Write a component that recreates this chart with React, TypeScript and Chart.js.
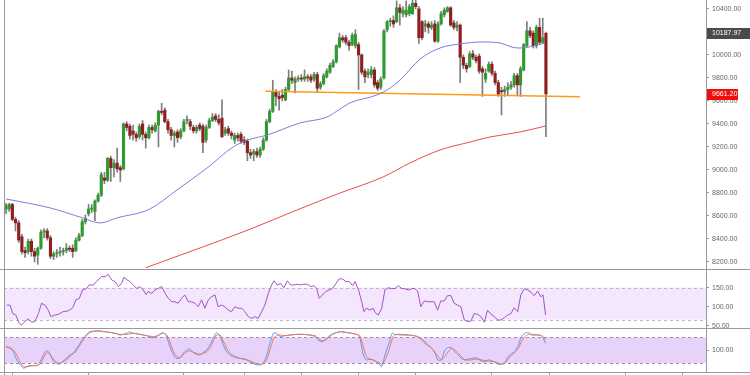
import React, { useEffect, useRef } from "react";
import { Chart, registerables } from "chart.js";

Chart.register(...registerables);

// ---- Candles (index 0..170) ----
const opens = [
  8660, 8660, 8700, 8570, 8540, 8420, 8300, 8290, 8380, 8290, 8260, 8320, 8460, 8470, 8410, 8250, 8270, 8280, 8290, 8300,
  8320, 8320, 8300, 8390, 8430, 8550, 8620, 8660, 8640, 8730, 8780, 8930, 8910, 9100, 9020, 9060, 9020, 9010, 9400, 9380,
  9340, 9310, 9290, 9400, 9310, 9280, 9370, 9340, 9390, 9510, 9520, 9420, 9350, 9300, 9330, 9290, 9340, 9430, 9420, 9370,
  9340, 9390, 9380, 9260, 9370, 9430, 9470, 9440, 9450, 9320, 9360, 9320, 9260, 9300, 9310, 9260, 9250, 9150, 9140, 9160,
  9130, 9180, 9260, 9420, 9510, 9680, 9640, 9650, 9610, 9700, 9800, 9760, 9790, 9800, 9790, 9810, 9810, 9790, 9830, 9720,
  9750, 9810, 9850, 9900, 9940, 10070, 10150, 10150, 10110, 10090, 10080, 10090, 10000, 9860, 9830, 9830, 9870, 9760, 9720, 9800,
  10220, 10290, 10300, 10290, 10410, 10360, 10350, 10360, 10360, 10450, 10400, 10290, 10250, 10270, 10240, 10270, 10120, 10270, 10350, 10380,
  10410, 10280, 10240, 10260, 9980, 9910, 9900, 10010, 9980, 9990, 9880, 9790, 9860, 9920, 9840, 9760, 9690, 9680, 9700, 9720,
  9740, 9820, 9740, 9870, 10080, 10210, 10190, 10080, 10240, 10110, 10187.97,
];
const highs = [
  8710, 8710, 8710, 8590, 8560, 8440, 8330, 8400, 8400, 8320, 8330, 8480, 8490, 8490, 8430, 8290, 8310, 8330, 8320, 8360,
  8340, 8350, 8410, 8450, 8570, 8610, 8700, 8700, 8740, 8800, 8980, 8980, 9110, 9120, 9090, 9190, 9040, 9410, 9420, 9400,
  9390, 9330, 9400, 9430, 9330, 9390, 9390, 9410, 9520, 9580, 9540, 9440, 9370, 9340, 9350, 9360, 9440, 9470, 9440, 9390,
  9390, 9410, 9400, 9390, 9450, 9490, 9490, 9480, 9610, 9370, 9380, 9340, 9320, 9320, 9330, 9290, 9270, 9180, 9180, 9190,
  9200, 9280, 9440, 9530, 9780, 9700, 9680, 9700, 9720, 9870, 9860, 9810, 9820, 9830, 9870, 9830, 9830, 9850, 9850, 9770,
  9840, 9880, 9930, 9960, 10090, 10190, 10170, 10170, 10130, 10190, 10220, 10110, 10010, 9880, 9880, 9900, 9890, 9780, 9810, 10220,
  10300, 10320, 10340, 10470, 10440, 10420, 10470, 10440, 10475, 10478, 10420, 10300, 10300, 10290, 10290, 10300, 10290, 10380, 10410, 10420,
  10420, 10300, 10290, 10270, 10000, 9930, 10030, 10040, 10000, 10010, 9900, 9880, 9940, 9940, 9860, 9780, 9720, 9730, 9760, 9770,
  9840, 9840, 9900, 10100, 10290, 10240, 10210, 10260, 10320, 10320, 10200,
];
const lows = [
  8620, 8640, 8560, 8470, 8370, 8270, 8240, 8270, 8250, 8200, 8180, 8310, 8410, 8390, 8230, 8220, 8240, 8250, 8260, 8280,
  8290, 8240, 8290, 8380, 8420, 8530, 8600, 8630, 8560, 8720, 8770, 8880, 8900, 8900, 8940, 8980, 8900, 9000, 9340, 9270,
  9260, 9250, 9270, 9260, 9190, 9270, 9320, 9330, 9200, 9480, 9410, 9320, 9260, 9200, 9240, 9270, 9330, 9400, 9350, 9320,
  9320, 9340, 9150, 9240, 9360, 9420, 9420, 9390, 9280, 9300, 9300, 9270, 9230, 9250, 9230, 9220, 9080, 9100, 9080, 9110,
  9110, 9170, 9250, 9410, 9500, 9560, 9520, 9600, 9600, 9690, 9750, 9670, 9770, 9770, 9770, 9770, 9760, 9770, 9680, 9700,
  9740, 9800, 9840, 9890, 9930, 10060, 10110, 10090, 10040, 10080, 10060, 9700, 9830, 9760, 9800, 9800, 9720, 9690, 9700, 9790,
  10200, 10250, 10240, 10280, 10260, 10330, 10330, 10340, 10350, 10400, 10100, 10130, 10200, 10190, 10220, 10110, 10110, 10260, 10330, 10370,
  10250, 10220, 10210, 9760, 9880, 9850, 9890, 9960, 9930, 9840, 9640, 9760, 9850, 9820, 9740, 9640, 9480, 9640, 9650, 9700,
  9720, 9650, 9640, 9860, 10070, 10150, 10060, 10060, 10090, 10100, 9290,
];
const closes = [
  8690, 8700, 8570, 8540, 8390, 8290, 8280, 8380, 8290, 8250, 8320, 8460, 8470, 8410, 8250, 8270, 8280, 8290, 8300, 8320,
  8310, 8290, 8390, 8430, 8550, 8580, 8660, 8670, 8730, 8780, 8960, 8910, 9100, 9020, 9060, 9010, 9000, 9400, 9370, 9300,
  9310, 9280, 9380, 9310, 9280, 9370, 9350, 9390, 9510, 9500, 9420, 9350, 9300, 9320, 9280, 9340, 9420, 9440, 9380, 9340,
  9370, 9360, 9240, 9370, 9430, 9460, 9440, 9410, 9290, 9350, 9320, 9300, 9300, 9280, 9250, 9240, 9150, 9130, 9160, 9130,
  9180, 9260, 9420, 9510, 9680, 9640, 9620, 9630, 9700, 9800, 9780, 9790, 9800, 9790, 9810, 9800, 9780, 9830, 9710, 9750,
  9820, 9860, 9910, 9940, 10080, 10150, 10130, 10110, 10080, 10170, 10180, 10000, 9850, 9810, 9850, 9870, 9740, 9710, 9790, 10210,
  10290, 10300, 10270, 10410, 10370, 10390, 10390, 10420, 10450, 10420, 10150, 10150, 10270, 10240, 10260, 10120, 10270, 10360, 10390, 10410,
  10260, 10240, 10260, 9980, 9910, 9880, 10010, 9980, 9950, 9860, 9850, 9840, 9920, 9840, 9760, 9660, 9680, 9700, 9720, 9740,
  9820, 9740, 9880, 10090, 10210, 10170, 10080, 10240, 10110, 10150, 9661.2,
];

// ---- Moving averages & trend line: [candle index, price] ----
const ma50Points: [number, number][] = [
  [0, 8748], [13.9, 8670], [24.2, 8583], [29.6, 8539], [34.9, 8583], [45.3, 8661], [53.8, 8826], [63.3, 9017],
  [71.5, 9200], [76.2, 9261], [82.2, 9304], [92.6, 9409], [101.1, 9461], [105.2, 9530], [108.3, 9583], [116.8, 9652],
  [120.0, 9696], [124.1, 9783], [130.4, 9965], [136.7, 10061], [142.9, 10096], [150.2, 10113], [155.5, 10104],
  [160.9, 10061], [162.8, 10061], [165.9, 10078], [169.7, 10104],
];
const ma200Points: [number, number][] = [
  [44, 8150], [76.2, 8478], [91.6, 8652], [105.2, 8800], [118.7, 8939], [127.2, 9061], [136.7, 9174],
  [146.1, 9243], [152.4, 9287], [161.8, 9330], [170, 9383],
];
const trendPoints: [number, number][] = [[81.6, 9684], [180.7, 9637]];

// ---- RSI: [candle index, value] ----
const rsiPoints: [number, number][] = [
  [0.2, 104], [1.3, 104], [2.1, 82], [3.1, 78], [4.2, 56], [4.9, 52], [6.0, 61], [7.0, 68], [8.1, 59], [9.1, 61],
  [10.2, 82], [11.2, 109], [12.3, 104], [13.3, 91], [14.1, 74], [15.4, 78], [16.5, 80], [18.0, 87], [19.6, 89], [21.0, 97],
  [22.0, 118], [23.1, 122], [24.1, 144], [25.4, 148], [26.2, 157], [27.5, 157], [28.5, 166], [30.1, 179], [31.2, 179], [32.2, 185],
  [33.3, 170], [34.3, 166], [35.4, 153], [36.4, 161], [37.1, 177], [38.2, 170], [39.0, 166], [40.1, 157], [41.1, 148], [42.2, 153],
  [43.2, 144], [44.1, 132], [44.8, 140], [45.9, 135], [46.9, 144], [48.0, 148], [49.0, 153], [50.1, 135], [51.1, 122], [52.2, 113],
  [53.2, 113], [54.2, 109], [55.3, 122], [56.3, 131], [57.4, 113], [58.4, 113], [59.5, 109], [60.5, 100], [61.6, 118], [62.6, 96],
  [63.7, 118], [64.7, 126], [65.8, 131], [66.8, 100], [67.9, 104], [68.9, 100], [70.0, 91], [71.0, 87], [72.1, 100], [73.1, 96],
  [74.2, 96], [75.2, 87], [76.3, 74], [77.3, 69], [78.4, 74], [79.4, 69], [80.5, 87], [81.5, 104], [82.6, 135], [83.6, 157],
  [84.4, 168], [85.4, 157], [86.5, 161], [87.5, 150], [88.6, 168], [89.6, 157], [90.7, 157], [91.7, 159], [92.8, 157], [93.8, 159],
  [94.9, 159], [95.9, 153], [97.0, 155], [97.8, 148], [98.6, 122], [99.7, 131], [100.7, 140], [101.8, 144], [102.8, 148], [103.9, 161],
  [104.9, 173], [106.0, 173], [107.0, 166], [108.1, 166], [109.1, 155], [109.9, 166], [111.0, 144], [112.0, 113], [112.7, 87], [113.5, 96],
  [114.6, 91], [115.6, 96], [116.2, 85], [117.2, 78], [118.3, 96], [119.3, 144], [120.4, 150], [121.4, 147], [122.5, 148], [123.5, 155],
  [124.6, 148], [125.6, 147], [126.7, 144], [127.7, 147], [128.7, 148], [129.6, 141], [130.6, 100], [131.7, 115], [132.7, 113], [133.8, 113],
  [134.8, 113], [135.9, 91], [136.9, 115], [138.0, 115], [139.0, 129], [140.1, 129], [141.1, 109], [142.2, 104], [143.2, 100], [144.3, 65],
  [145.3, 61], [146.4, 62], [147.4, 82], [148.5, 80], [149.5, 74], [150.6, 59], [151.6, 91], [152.7, 80], [153.8, 74], [154.8, 65],
  [155.8, 65], [156.9, 71], [157.9, 78], [159.0, 82], [160.0, 97], [161.1, 87], [162.1, 131], [163.2, 147], [164.2, 144], [165.3, 138],
  [166.3, 129], [167.4, 141], [168.4, 126], [169.1, 131], [169.9, 78],
];

// ---- Stochastic: [candle index, value] ----
const stochK: [number, number][] = [
  [0.0, 115], [1.3, 108], [2.3, 92], [3.4, 55], [4.4, 35], [5.5, 17], [6.5, 24], [7.6, 29], [8.6, 29], [9.7, 29],
  [10.5, 40], [11.5, 70], [12.6, 96], [13.6, 89], [14.7, 55], [15.7, 40], [16.8, 35], [17.8, 47], [18.9, 62], [20.1, 77],
  [21.2, 85], [22.2, 108], [23.3, 130], [24.3, 153], [25.4, 171], [26.4, 183], [28.0, 186], [29.6, 186], [31.2, 183], [32.7, 180],
  [34.3, 176], [35.9, 168], [36.9, 171], [38.0, 176], [39.0, 183], [40.1, 176], [42.2, 171], [44.3, 165], [46.4, 156], [48.0, 168],
  [49.3, 179], [50.4, 168], [51.4, 123], [52.5, 85], [53.5, 62], [54.8, 65], [55.8, 85], [56.9, 100], [57.9, 105], [59.0, 89],
  [60.0, 80], [61.1, 77], [62.1, 89], [63.2, 100], [64.2, 123], [65.3, 156], [66.3, 179], [67.4, 161], [68.4, 123], [69.5, 92],
  [70.5, 77], [71.6, 70], [72.6, 65], [73.7, 62], [75.2, 58], [76.8, 47], [78.4, 35], [80.0, 32], [81.0, 40], [82.1, 77],
  [83.1, 130], [84.2, 176], [85.2, 176], [86.3, 161], [87.8, 165], [89.4, 168], [91.5, 171], [93.6, 171], [95.7, 168], [97.3, 161],
  [98.3, 146], [99.4, 138], [100.4, 146], [101.5, 161], [102.5, 171], [104.1, 180], [105.7, 183], [107.2, 179], [108.8, 176], [110.4, 171],
  [111.4, 156], [112.5, 77], [113.5, 55], [114.6, 58], [115.6, 55], [117.2, 40], [118.3, 24], [119.3, 77], [120.4, 123], [121.6, 176],
  [122.5, 171], [124.6, 168], [126.7, 168], [128.7, 165], [129.8, 161], [131.9, 138], [134.0, 108], [135.1, 89], [135.9, 55], [137.1, 55],
  [138.2, 100], [139.2, 111], [140.3, 111], [141.3, 92], [142.4, 77], [143.4, 62], [144.5, 55], [146.6, 62], [147.6, 65], [148.7, 59],
  [149.7, 50], [150.8, 47], [151.8, 55], [152.9, 52], [153.9, 44], [155.0, 35], [156.0, 35], [157.1, 44], [158.1, 70], [159.2, 85],
  [160.2, 92], [161.3, 123], [162.3, 161], [163.4, 176], [164.4, 180], [165.5, 168], [166.5, 168], [167.6, 168], [168.6, 165], [169.1, 156],
  [169.9, 130],
];
const stochD: [number, number][] = [
  [0.0, 115], [1.3, 111], [2.3, 100], [3.4, 77], [4.4, 47], [5.5, 24], [6.5, 24], [8.6, 29], [10.5, 32], [11.5, 55],
  [12.6, 85], [13.6, 85], [14.7, 62], [15.7, 47], [16.8, 40], [17.8, 44], [18.9, 55], [20.1, 70], [21.2, 85], [22.2, 96],
  [23.3, 123], [24.3, 146], [25.4, 165], [26.4, 179], [28.0, 186], [29.6, 186], [31.2, 183], [32.7, 180], [34.3, 176], [35.9, 171],
  [38.0, 171], [40.1, 176], [42.2, 171], [44.3, 165], [46.4, 161], [48.0, 165], [49.3, 176], [50.4, 171], [51.4, 146], [52.5, 100],
  [53.5, 74], [54.8, 65], [55.8, 77], [56.9, 92], [57.9, 96], [59.0, 89], [60.0, 85], [61.1, 80], [62.1, 85], [63.2, 92],
  [64.2, 108], [65.3, 141], [66.3, 168], [67.4, 168], [68.4, 141], [69.5, 108], [70.5, 85], [71.6, 74], [72.6, 68], [73.7, 62],
  [75.2, 58], [76.8, 50], [78.4, 40], [80.0, 35], [81.0, 38], [82.1, 55], [83.1, 100], [84.2, 150], [85.2, 168], [86.3, 168],
  [87.8, 165], [89.4, 168], [91.5, 171], [93.6, 171], [95.7, 168], [97.3, 165], [98.3, 153], [99.4, 141], [100.4, 144], [101.5, 156],
  [102.5, 168], [104.1, 179], [105.7, 183], [107.2, 180], [108.8, 176], [110.4, 171], [111.4, 165], [112.5, 115], [113.5, 70], [114.6, 58],
  [115.6, 55], [116.2, 50], [117.2, 44], [118.3, 35], [119.3, 55], [120.4, 92], [121.9, 161], [123.0, 171], [124.6, 171], [126.7, 168],
  [128.7, 164], [130.3, 153], [131.9, 130], [134.0, 108], [135.1, 85], [136.1, 70], [137.1, 55], [138.2, 70], [139.2, 92], [140.3, 108],
  [141.3, 100], [142.4, 85], [143.4, 70], [144.5, 55], [146.6, 55], [147.6, 58], [148.7, 59], [149.7, 55], [151.8, 50], [153.9, 47],
  [156.0, 35], [157.1, 40], [158.1, 59], [159.2, 77], [160.2, 89], [161.3, 108], [162.3, 138], [163.4, 161], [164.4, 171], [165.5, 171],
  [167.6, 168], [168.6, 165], [169.1, 161], [169.9, 146],
];

// ---- Axis ticks / bands / tags ----
const priceTicks = [8200, 8400, 8600, 8800, 9000, 9200, 9400, 9600, 9800, 10000, 10200, 10400];
const rsiTicks = [50, 100, 150];
const stochTicks = [100];
const dateTickIdx = [2, 26, 56, 75, 93, 111, 129, 153, 171, 195, 213];
const rsiBand: [number, number] = [66, 150];
const stochBand: [number, number] = [40, 158];
const lastPrice = 9661.2;
const refPrice = 10187.97;

const FONT = '"Liberation Sans", Arial, sans-serif';
const AXIS_GRAY = "#9a9a9a";

export default function App() {
  const ref = useRef<HTMLCanvasElement>(null);

  useEffect(() => {
    const canvas = ref.current;
    if (!canvas) return;

    const idx = opens.map((_, i) => i);
    const bodies = idx.map((i) => ({ x: i, y: [opens[i], closes[i]] }));
    const bodyColors = idx.map((i) => (closes[i] >= opens[i] ? "#2f9a2f" : "#8e1f1f"));
    const wicks = idx.map((i) => ({ x: i, y: [lows[i], highs[i]] }));
    const toXY = (pts: [number, number][]) => pts.map(([x, y]) => ({ x, y }));

    const yAxis = (ticksArr: number[], weight: number, min: number, max: number) => ({
      type: "linear",
      position: "right",
      stack: "panels",
      stackWeight: weight,
      min,
      max,
      offset: false,
      grid: { drawOnChartArea: false, drawTicks: true, tickLength: 3, color: AXIS_GRAY },
      border: { display: true, color: AXIS_GRAY },
      ticks: {
        padding: 3,
        color: "#666",
        autoSkip: false,
        font: { size: 7, family: FONT },
        callback: (v: any) => Number(v).toFixed(2),
      },
      afterBuildTicks: (s: any) => {
        s.ticks = ticksArr.map((v) => ({ value: v }));
      },
      afterFit: (s: any) => {
        s.width = 44;
        s.paddingTop = 0;
        s.paddingBottom = 0;
      },
    });

    const panelPlugin = {
      id: "panels",
      beforeDatasetsDraw(chart: any) {
        const { ctx, chartArea } = chart;
        const band = (scale: any, lo: number, hi: number, fill: string, stroke: string) => {
          const yT = scale.getPixelForValue(hi);
          const yB = scale.getPixelForValue(lo);
          ctx.save();
          ctx.fillStyle = fill;
          ctx.fillRect(chartArea.left, yT, chartArea.right - chartArea.left, yB - yT);
          ctx.setLineDash([3, 3]);
          ctx.strokeStyle = stroke;
          ctx.lineWidth = 1;
          ctx.beginPath();
          ctx.moveTo(chartArea.left, Math.round(yT) + 0.5);
          ctx.lineTo(chartArea.right, Math.round(yT) + 0.5);
          ctx.moveTo(chartArea.left, Math.round(yB) + 0.5);
          ctx.lineTo(chartArea.right, Math.round(yB) + 0.5);
          ctx.stroke();
          ctx.restore();
        };
        band(chart.scales.yRsi, rsiBand[0], rsiBand[1], "#f4e6fd", "#c4b4cc");
        band(chart.scales.yStoch, stochBand[0], stochBand[1], "#e9d2fa", "#9c8aa6");
      },
      afterDraw(chart: any) {
        const { ctx, chartArea, width, height } = chart;
        ctx.save();
        ctx.strokeStyle = AXIS_GRAY;
        ctx.lineWidth = 1;
        ctx.beginPath();
        for (const y of [chart.scales.yRsi.top, chart.scales.yStoch.top, chartArea.bottom]) {
          const yy = Math.round(y) + 0.5;
          ctx.moveTo(0, yy);
          ctx.lineTo(width, yy);
        }
        ctx.moveTo(Math.round(chartArea.left) + 0.5, 0);
        ctx.lineTo(Math.round(chartArea.left) + 0.5, height);
        ctx.stroke();

        const ys = chart.scales.y;
        const tag = (value: number, bg: string, w: number) => {
          const y = ys.getPixelForValue(value);
          ctx.fillStyle = bg;
          ctx.fillRect(ys.left + 1, Math.round(y) - 5, w, 11);
          ctx.fillStyle = "#ffffff";
          ctx.font = `7px ${FONT}`;
          ctx.textAlign = "left";
          ctx.textBaseline = "middle";
          ctx.fillText(value.toFixed(2), ys.left + 6, Math.round(y) + 0.5);
        };
        tag(refPrice, "#4a4a4a", width - ys.left - 1);
        tag(lastPrice, "#f20d0d", 31);
        ctx.restore();
      },
    };

    const chart = new Chart(canvas, {
      type: "bar",
      data: {
        datasets: [
          {
            type: "line",
            label: "MA50",
            data: toXY(ma50Points),
            yAxisID: "y",
            borderColor: "#7c7ce0",
            borderWidth: 1,
            pointRadius: 0,
            cubicInterpolationMode: "monotone",
            order: 0,
          },
          {
            type: "line",
            label: "MA200",
            data: toXY(ma200Points),
            yAxisID: "y",
            borderColor: "#f04a4a",
            borderWidth: 1,
            pointRadius: 0,
            cubicInterpolationMode: "monotone",
            order: 0,
          },
          {
            type: "line",
            label: "Trend",
            data: toXY(trendPoints),
            yAxisID: "y",
            borderColor: "#ff9a1a",
            borderWidth: 1.6,
            pointRadius: 0,
            order: 0,
          },
          {
            type: "line",
            label: "RSI",
            data: toXY(rsiPoints),
            yAxisID: "yRsi",
            borderColor: "#a452c8",
            borderWidth: 1,
            pointRadius: 0,
            tension: 0,
            order: 0,
          },
          {
            type: "line",
            label: "%D",
            data: toXY(stochD),
            yAxisID: "yStoch",
            borderColor: "#f2764a",
            borderWidth: 1,
            pointRadius: 0,
            tension: 0.2,
            order: 0,
          },
          {
            type: "line",
            label: "%K",
            data: toXY(stochK),
            yAxisID: "yStoch",
            borderColor: "#4f9dff",
            borderWidth: 1,
            pointRadius: 0,
            tension: 0.2,
            order: 0,
          },
          {
            type: "bar",
            label: "Body",
            data: bodies as any,
            yAxisID: "y",
            backgroundColor: bodyColors,
            borderWidth: 0,
            barThickness: 2.5,
            grouped: false,
            order: 1,
          },
          {
            type: "bar",
            label: "Wick",
            data: wicks as any,
            yAxisID: "y",
            backgroundColor: "#7d7d7d",
            borderWidth: 0,
            barThickness: 1,
            grouped: false,
            order: 2,
          },
        ] as any,
      },
      options: {
        animation: false,
        responsive: true,
        maintainAspectRatio: false,
        events: [],
        layout: { padding: { left: 4, top: 0, right: 0, bottom: 0 } },
        plugins: { legend: { display: false }, tooltip: { enabled: false } },
        scales: {
          x: {
            type: "linear",
            position: "bottom",
            offset: false,
            min: -0.63,
            max: 220.4,
            grid: { drawOnChartArea: false, drawTicks: true, tickLength: 4, color: AXIS_GRAY, offset: false },
            border: { display: true, color: AXIS_GRAY },
            ticks: { display: false },
            afterBuildTicks: (s: any) => {
              s.ticks = dateTickIdx.map((v) => ({ value: v }));
            },
            afterFit: (s: any) => {
              s.height = 3;
              s.paddingLeft = 0;
              s.paddingRight = 0;
            },
          },
          y: yAxis(priceTicks, 269, 8139, 10478),
          yRsi: yAxis(rsiTicks, 59, 44, 199),
          yStoch: yAxis(stochTicks, 44, 0, 200),
        } as any,
      },
      plugins: [panelPlugin],
    });

    return () => chart.destroy();
  }, []);

  return (
    <div style={{ position: "fixed", left: 0, top: 0, width: 750, height: 375, background: "#fff" }}>
      <canvas ref={ref} />
    </div>
  );
}
